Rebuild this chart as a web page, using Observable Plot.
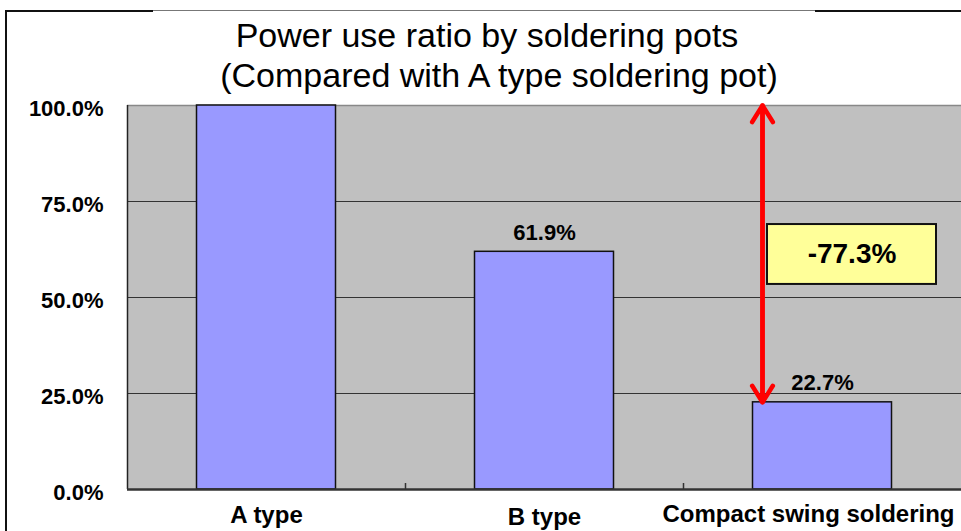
<!DOCTYPE html>
<html>
<head>
<meta charset="utf-8">
<script src="https://cdn.jsdelivr.net/npm/d3@7"></script>
<script src="https://cdn.jsdelivr.net/npm/@observablehq/plot@0.6"></script>
<style>
  html, body { margin: 0; padding: 0; background: #fff; }
  #wrap { position: relative; width: 961px; height: 531px; overflow: hidden; font-family: "Liberation Sans", Arial, sans-serif; }
  #title { position: relative; height: 95px; }
  .tline { position: absolute; font-size: 34px; line-height: 34px; white-space: nowrap; transform: translateX(-50%); color: #000; }
  .bl { position: absolute; background: #111; }
  #chart { position: absolute; left: 0; top: 95px; }
</style>
</head>
<body>
<div id="wrap">
  <div class="bl" style="left:5px;top:10px;width:2px;height:521px;"></div>
  <div class="bl" style="left:5px;top:10px;width:148px;height:2px;"></div>
  <div class="bl" style="left:153px;top:10px;width:662px;height:1px;background:#777;"></div>
  <div class="bl" style="left:815px;top:10px;width:146px;height:2px;"></div>
  <div id="title">
    <div class="tline" style="left:487px;top:18px;">Power use ratio by soldering pots</div>
    <div class="tline" style="left:499px;top:58px;">(Compared with A type soldering pot)</div>
  </div>
  <div id="chart"></div>
</div>
<script>
// ---- data ----
const categories = ["A type", "B type", "Compact swing soldering"];
const ratios = [1.0, 0.619, 0.227];
const yTicks = [0, 0.25, 0.5, 0.75, 1.0];
const gridTicks = [0.25, 0.5, 0.75];

const data = categories.map((c, i) => ({cat: c, value: ratios[i]}));
const base = data[0], target = data[2];
const diffLabel = ((target.value - base.value) * 100).toFixed(1) + "%";
const fmt = d3.format(".1%");

const boxY1 = 0.534, boxY2 = 0.69;

const chart = Plot.plot({
  width: 961,
  height: 436,
  marginTop: 10,
  marginBottom: 42,
  marginLeft: 127,
  marginRight: 0,
  style: {fontFamily: "'Liberation Sans', Arial, sans-serif", background: "transparent", overflow: "visible"},
  x: {domain: categories, padding: 0, axis: null},
  y: {domain: [0, 1], axis: null},
  marks: [
    Plot.frame({fill: "#c0c0c0", stroke: null}),
    Plot.ruleY(gridTicks, {stroke: "#333", strokeWidth: 1.2}),
    Plot.ruleY([1], {stroke: "#888", strokeWidth: 1.5}),
    Plot.barY(data, {x: "cat", y: "value", fill: "#9999ff", stroke: "#111", strokeWidth: 1.5, insetLeft: 69.5, insetRight: 69.5}),
    // x tick marks at category boundaries
    Plot.ruleX(categories.slice(1), {dx: -139, insetTop: 378, stroke: "#333", strokeWidth: 1.5}),
    Plot.ruleX(categories.slice(0, 1), {dx: -139, stroke: "#222", strokeWidth: 1.5}),
    Plot.ruleY([0], {stroke: "#333", strokeWidth: 2.5}),
    Plot.axisY({ticks: yTicks, tickSize: 0, tickPadding: 24, tickFormat: fmt, fontSize: 22, fontWeight: "bold", dy: 3, fill: "#000"}),
    // value labels
    Plot.text(data.filter(d => d.value < 1), {x: "cat", y: "value", text: d => fmt(d.value), dy: -19, fontSize: 22, fontWeight: "bold", fill: "#000"}),
    // x labels
    Plot.text(data.slice(0, 1), {x: "cat", frameAnchor: "bottom", text: "cat", dy: 33, fontSize: 24, fontWeight: "bold", fill: "#000"}),
    Plot.text(data.slice(1, 2), {x: "cat", frameAnchor: "bottom", text: "cat", dy: 35, fontSize: 24, fontWeight: "bold", fill: "#000"}),
    Plot.text(data.slice(2), {x: "cat", frameAnchor: "bottom", text: "cat", dy: 32, dx: -14, fontSize: 24, fontWeight: "bold", fill: "#000"}),
    // red double-headed arrow
    Plot.arrow([{x: target.cat, y1: target.value, y2: base.value}], {x1: "x", x2: "x", y1: "y1", y2: "y2", dx: -60, stroke: "#ff0000", strokeWidth: 4.5, headLength: 6.5, headAngle: 64}),
    Plot.arrow([{x: target.cat, y1: base.value, y2: target.value}], {x1: "x", x2: "x", y1: "y1", y2: "y2", dx: -60, stroke: "#ff0000", strokeWidth: 4.5, headLength: 6.5, headAngle: 64}),
    // annotation box
    Plot.barY([target], {x: "cat", y1: () => boxY1, y2: () => boxY2, fill: "#ffff99", stroke: "#111", strokeWidth: 2, insetLeft: 84, insetRight: 25}),
    Plot.text([target], {x: "cat", y: () => (boxY1 + boxY2) / 2, text: () => diffLabel, dx: 29.5, fontSize: 28, fontWeight: "bold", fill: "#000"})
  ]
});
document.getElementById("chart").appendChild(chart);
</script>
</body>
</html>
